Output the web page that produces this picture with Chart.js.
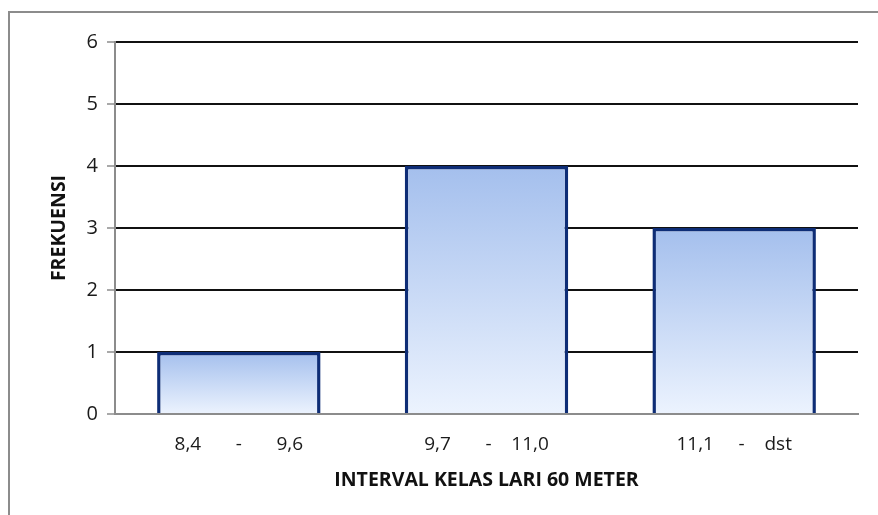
<!DOCTYPE html>
<html>
<head>
<meta charset="utf-8">
<script src="https://cdn.jsdelivr.net/npm/chart.js@4/dist/chart.umd.min.js"></script>
<style>
  html, body { margin: 0; padding: 0; background: #fff; overflow: hidden; }
  #frame {
    position: absolute; left: 8px; top: 11px; width: 900px; height: 540px;
    border-left: 2px solid #8c8c8c; border-top: 2px solid #8c8c8c;
  }
  #chart { position: absolute; left: 0; top: 0; }
</style>
</head>
<body>
<div id="frame"></div>
<canvas id="chart" width="878" height="515"></canvas>
<script>
// Data
var categories = ['8,4       -       9,6', '9,7       -    11,0', '11,1     -    dst'];
var frequencies = [1, 4, 3];
var yTicks = [0, 1, 2, 3, 4, 5, 6];

var fontFamily = "'Open Sans', Lato, sans-serif";

// vertical gradient per bar, from its top to the axis
function barGradient(ctx) {
    var chart = ctx.chart;
    if (!chart.chartArea || ctx.raw === undefined) return '#c5d6f5';
    var y = chart.scales.y;
    var top = y.getPixelForValue(ctx.raw);
    var bottom = y.getPixelForValue(0);
    var g = chart.ctx.createLinearGradient(0, top, 0, bottom);
    g.addColorStop(0, '#a4bfed');
    g.addColorStop(1, '#ecf3fe');
    return g;
}

new Chart(document.getElementById('chart'), {
    type: 'bar',
    data: {
        labels: categories,
        datasets: [{
            data: frequencies,
            backgroundColor: barGradient,
            borderColor: '#0e2d76',
            borderWidth: 3.5,
            borderSkipped: 'bottom',
            barPercentage: 0.66,
            categoryPercentage: 1
        }]
    },
    options: {
        responsive: false,
        animation: false,
        layout: { padding: { left: 38, top: 42, right: 20, bottom: 0 } },
        plugins: {
            legend: { display: false },
            tooltip: { enabled: false }
        },
        scales: {
            x: {
                grid: { display: false },
                border: { color: '#8c8c8c', width: 2 },
                ticks: {
                    color: '#1a1a1a',
                    padding: 11,
                    font: { family: fontFamily, size: 19 }
                },
                title: {
                    display: true,
                    text: 'INTERVAL KELAS LARI 60 METER',
                    color: '#111',
                    padding: { top: 0, bottom: 23 },
                    font: { family: fontFamily, size: 19.5, weight: 'bold' }
                },
                afterFit: function (scale) { scale.height = 515 - 414; }
            },
            y: {
                min: 0,
                max: 6,
                afterBuildTicks: function (scale) {
                    scale.ticks = yTicks.map(function (v) { return { value: v }; });
                },
                grid: {
                    color: function (c) { return c.tick && c.tick.value === 0 ? 'rgba(0,0,0,0)' : '#111'; },
                    lineWidth: 2,
                    tickColor: '#8c8c8c',
                    tickWidth: 1.5,
                    tickLength: 8
                },
                border: { color: '#8c8c8c', width: 2 },
                ticks: {
                    color: '#1a1a1a',
                    padding: 9,
                    font: { family: fontFamily, size: 20 }
                },
                title: {
                    display: true,
                    text: 'FREKUENSI',
                    color: '#111',
                    padding: { top: 10, bottom: 0 },
                    font: { family: fontFamily, size: 19.5, weight: 'bold' }
                },
                afterFit: function (scale) { scale.width = 115 - 38; }
            }
        }
    }
});
</script>
</body>
</html>
